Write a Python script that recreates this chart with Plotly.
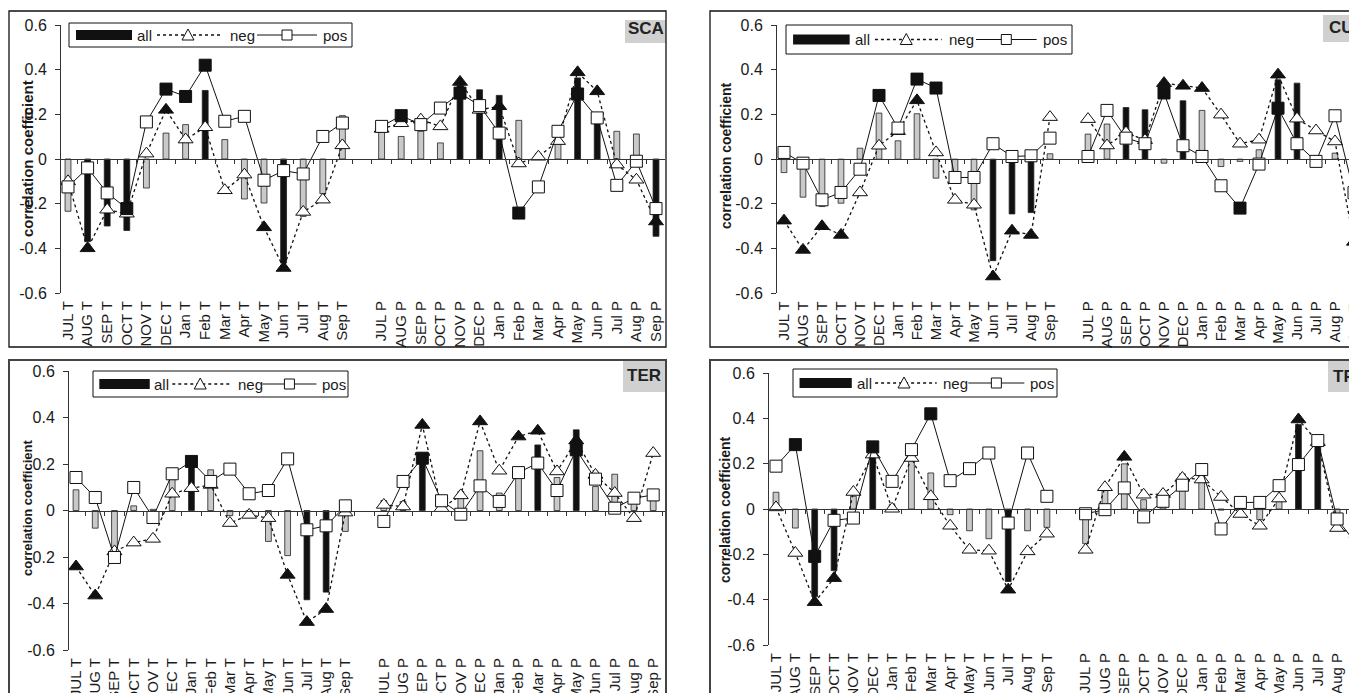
import plotly.graph_objects as go

W, H = 1357, 693
OFF = 8  # page body margin of the rendered html

# ---------------- data ----------------
T_LABELS = ["JUL T", "AUG T", "SEP T", "OCT T", "NOV T", "DEC T", "Jan T", "Feb T",
            "Mar T", "Apr T", "May T", "Jun T", "Jul T", "Aug T", "Sep T"]
P_LABELS = ["JUL P", "AUG P", "SEP P", "OCT P", "NOV P", "DEC P", "Jan P", "Feb P",
            "Mar P", "Apr P", "May P", "Jun P", "Jul P", "Aug P", "Sep P"]
SITES = ["SCA", "CUE", "TER", "TRT"]

# SCA
SCA_all = [-0.234, -0.37, -0.30, -0.32, -0.13, 0.116, 0.154, 0.307, 0.087, -0.179, -0.197, -0.466, -0.257, -0.155, 0.194,
           0.169, 0.101, 0.124, 0.072, 0.33, 0.31, 0.285, 0.173, 0.024, 0.087, 0.363, 0.206, 0.124, 0.112, -0.346]
SCA_all_sig = [0, 1, 1, 1, 0, 0, 0, 1, 0, 0, 0, 1, 0, 0, 0,
               0, 0, 0, 0, 1, 1, 1, 0, 0, 0, 1, 1, 0, 0, 1]
SCA_neg = [-0.10, -0.40, -0.227, -0.245, 0.024, 0.22, 0.087, 0.142, -0.14, -0.07, -0.306, -0.488, -0.237, -0.182, 0.061,
           0.135, 0.16, 0.176, 0.146, 0.345, 0.22, 0.236, -0.02, 0.01, 0.08, 0.388, 0.303, -0.025, -0.093, -0.28]
SCA_neg_sig = [0, 1, 0, 0, 0, 1, 0, 0, 0, 0, 1, 1, 0, 0, 0,
               0, 0, 0, 0, 1, 0, 1, 0, 0, 0, 1, 1, 0, 0, 1]
SCA_pos = [-0.125, -0.04, -0.152, -0.222, 0.166, 0.313, 0.28, 0.42, 0.169, 0.191, -0.095, -0.052, -0.067, 0.101, 0.161,
           0.146, 0.194, 0.154, 0.228, 0.295, 0.239, 0.116, -0.242, -0.125, 0.124, 0.291, 0.184, -0.118, -0.01, -0.222]
SCA_pos_sig = [0, 0, 0, 1, 0, 1, 1, 1, 0, 0, 0, 0, 0, 0, 0,
               0, 1, 0, 0, 1, 0, 0, 1, 0, 0, 1, 0, 0, 0, 0]

# CUE
CUE_all = [-0.06, -0.17, -0.212, -0.197, 0.049, 0.206, 0.082, 0.203, -0.085, -0.063, -0.227, -0.454, -0.245, -0.239, 0.024,
           0.112, 0.157, 0.231, 0.221, -0.018, 0.261, 0.218, -0.033, -0.01, 0.042, 0.355, 0.34, -0.005, 0.027, -0.27]
CUE_all_sig = [0, 0, 0, 0, 0, 0, 0, 0, 0, 0, 0, 1, 1, 1, 0,
               0, 0, 1, 1, 0, 1, 0, 0, 0, 0, 1, 1, 0, 0, 0]
CUE_neg = [-0.275, -0.406, -0.30, -0.339, -0.149, 0.06, 0.125, 0.263, 0.03, -0.182, -0.204, -0.525, -0.32, -0.339, 0.188,
           0.179, 0.061, 0.119, 0.085, 0.34, 0.328, 0.318, 0.199, 0.069, 0.087, 0.378, 0.181, 0.128, 0.079, -0.37]
CUE_neg_sig = [1, 1, 1, 1, 0, 0, 0, 1, 0, 0, 0, 1, 1, 1, 0,
               0, 0, 0, 0, 1, 1, 1, 0, 0, 0, 1, 0, 0, 0, 1]
CUE_pos = [0.03, -0.018, -0.182, -0.149, -0.045, 0.285, 0.139, 0.358, 0.318, -0.082, -0.082, 0.069, 0.012, 0.015, 0.094,
           0.012, 0.218, 0.094, 0.069, 0.296, 0.06, 0.012, -0.119, -0.219, -0.022, 0.228, 0.069, -0.01, 0.194, -0.15]
CUE_pos_sig = [0, 0, 0, 0, 0, 1, 0, 1, 1, 0, 0, 0, 0, 0, 0,
               0, 0, 0, 0, 1, 0, 0, 0, 1, 0, 1, 0, 0, 0, 0]

# TER
TER_all = [0.089, -0.076, -0.184, 0.02, 0.005, 0.153, 0.218, 0.175, -0.022, -0.01, -0.133, -0.194, -0.384, -0.351, -0.09,
           0.043, 0.039, 0.228, 0.027, 0.082, 0.257, 0.075, 0.163, 0.282, 0.142, 0.347, 0.103, 0.156, 0.032, 0.05]
TER_all_sig = [0, 0, 0, 0, 0, 0, 1, 0, 0, 0, 0, 0, 1, 1, 0,
               0, 0, 1, 0, 0, 0, 0, 0, 1, 0, 1, 0, 0, 0, 0]
TER_neg = [-0.241, -0.366, -0.176, -0.138, -0.122, 0.072, 0.096, 0.11, -0.054, -0.019, -0.033, -0.277, -0.48, -0.424, -0.009,
           0.024, 0.017, 0.368, 0.01, 0.065, 0.383, 0.171, 0.318, 0.343, 0.168, 0.301, 0.153, 0.075, -0.033, 0.247]
TER_neg_sig = [1, 1, 0, 0, 0, 0, 0, 0, 0, 0, 0, 1, 1, 1, 0,
               0, 0, 1, 0, 0, 1, 0, 1, 1, 0, 1, 0, 0, 0, 0]
TER_pos = [0.142, 0.056, -0.202, 0.099, -0.03, 0.158, 0.211, 0.125, 0.178, 0.072, 0.086, 0.222, -0.083, -0.066, 0.02,
           -0.047, 0.125, 0.225, 0.042, -0.016, 0.106, 0.039, 0.163, 0.204, 0.086, 0.261, 0.135, 0.01, 0.053, 0.067]
TER_pos_sig = [0, 0, 0, 0, 0, 0, 1, 0, 0, 0, 0, 0, 0, 0, 0,
               0, 0, 1, 0, 0, 0, 0, 0, 0, 0, 1, 0, 0, 0, 0]

# TRT
TRT_all = [0.074, -0.084, -0.386, -0.272, 0.056, 0.267, 0.019, 0.255, 0.159, -0.025, -0.096, -0.131, -0.32, -0.096, -0.081,
           -0.153, 0.093, 0.199, 0.041, 0.066, 0.155, 0.159, -0.005, 0.005, -0.047, 0.041, 0.373, 0.292, -0.032, -0.135]
TRT_all_sig = [0, 0, 1, 1, 0, 1, 0, 0, 0, 0, 0, 0, 1, 0, 0,
               0, 0, 0, 0, 0, 0, 0, 0, 0, 0, 0, 1, 1, 0, 0]
TRT_neg = [0.007, -0.194, -0.411, -0.305, 0.075, 0.24, 0.001, 0.225, 0.056, -0.074, -0.18, -0.184, -0.356, -0.187, -0.109,
           -0.18, 0.096, 0.23, 0.063, 0.066, 0.137, 0.13, 0.053, -0.022, -0.074, 0.046, 0.395, 0.295, -0.084, -0.113]
TRT_neg_sig = [0, 0, 1, 1, 0, 0, 0, 0, 0, 0, 0, 0, 1, 0, 0,
               0, 0, 1, 0, 0, 0, 0, 0, 0, 0, 0, 1, 0, 0, 0]
TRT_pos = [0.189, 0.284, -0.209, -0.05, -0.04, 0.274, 0.122, 0.262, 0.42, 0.125, 0.178, 0.247, -0.062, 0.247, 0.056,
           -0.021, -0.003, 0.093, -0.035, 0.034, 0.105, 0.174, -0.088, 0.029, 0.029, 0.103, 0.196, 0.302, -0.044, -0.155]
TRT_pos_sig = [0, 1, 1, 0, 0, 1, 0, 0, 1, 0, 0, 0, 0, 0, 0,
               0, 0, 0, 0, 0, 0, 0, 0, 0, 0, 0, 0, 0, 0, 0]

DATA = {
    "SCA": (SCA_all, SCA_all_sig, SCA_neg, SCA_neg_sig, SCA_pos, SCA_pos_sig),
    "CUE": (CUE_all, CUE_all_sig, CUE_neg, CUE_neg_sig, CUE_pos, CUE_pos_sig),
    "TER": (TER_all, TER_all_sig, TER_neg, TER_neg_sig, TER_pos, TER_pos_sig),
    "TRT": (TRT_all, TRT_all_sig, TRT_neg, TRT_neg_sig, TRT_pos, TRT_pos_sig),
}
Y_TICKS = [-0.6, -0.4, -0.2, 0, 0.2, 0.4, 0.6]
Y_TICKTEXT = ["-0.6", "-0.4", "-0.2", "0", "0.2", "0.4", "0.6"]

# ---------------- layout geometry (screen pixels) ----------------
GEOM = {
    "SCA": dict(ax=61, right=665, ytop=25, ybot=293, first=68, step=19.6,
                frame=(9, 11, 666, 347), fw=1.3, fc="#111",
                lab=(625, 20, 666, 43), labx=645.5, laby=29, lanchor="center",
                leg=(69, 23, 283, 24), ytitle=(27, 159, 15)),
    "CUE": dict(ax=777, right=1365, ytop=25, ybot=293.3, first=784, step=19.0,
                frame=(710, 11, 1420, 347), fw=1.3, fc="#111",
                lab=(1323, 15, 1420, 42), labx=1327, laby=27, lanchor="left",
                leg=(786, 25, 286, 29), ytitle=(726, 156, 14)),
    "TER": dict(ax=69, right=665, ytop=371, ybot=650, first=76, step=19.24,
                frame=(9, 360, 666, 720), fw=2, fc="#444",
                lab=(623, 360, 665, 392), labx=644, laby=375, lanchor="center",
                leg=(93, 371, 255, 26), ytitle=(27, 508, 13)),
    "TRT": dict(ax=769, right=1365, ytop=373, ybot=645, first=776, step=19.35,
                frame=(710, 360, 1420, 720), fw=2, fc="#444",
                lab=(1328, 360, 1420, 392), labx=1331, laby=377, lanchor="left",
                leg=(793, 369, 264, 28), ytitle=(725, 510, 14)),
}

FONT = "Liberation Sans, Arial, sans-serif"
TXT = "#1a1a1a"


def px(x):
    return (x - OFF) / W


def py(y):
    return 1 - (y - OFF) / H


fig = go.Figure()
layout = {}
shapes = []
annotations = []

xs_bar = list(range(15)) + list(range(16, 31))
xs_line = list(range(31))
tick_labels = T_LABELS + P_LABELS


def with_gap(v, fill=None):
    return list(v[:15]) + [fill] + list(v[15:])


def sig_colors(flags):
    return with_gap(["#111" if s else "white" for s in flags], "white")


for i, site in enumerate(SITES):
    n = i + 1
    g = GEOM[site]
    a, a_s, ng, ng_s, ps, ps_s = DATA[site]
    xa = "x" if n == 1 else f"x{n}"
    ya = "y" if n == 1 else f"y{n}"
    xdom = [px(g["ax"]), min(1.0, px(g["right"]))]
    right_px = min(g["right"], W + OFF)
    ydom = [py(g["ybot"]), py(g["ytop"])]
    xr = [(g["ax"] - g["first"]) / g["step"], (right_px - g["first"]) / g["step"]]

    fig.add_trace(go.Bar(
        x=xs_bar, y=a, width=0.3, xaxis=xa, yaxis=ya, showlegend=False,
        marker=dict(color=["#111111" if s else "#c9c9c9" for s in a_s],
                    line=dict(color="#222", width=0.8)),
    ))
    fig.add_trace(go.Scatter(
        x=xs_line, y=with_gap(ng), xaxis=xa, yaxis=ya, mode="lines+markers",
        showlegend=False, connectgaps=False,
        line=dict(color="#111", width=1.3, dash="dot"),
        marker=dict(symbol="triangle-up", size=13, color=sig_colors(ng_s),
                    line=dict(color="#111", width=1)),
    ))
    fig.add_trace(go.Scatter(
        x=xs_line, y=with_gap(ps), xaxis=xa, yaxis=ya, mode="lines+markers",
        showlegend=False, connectgaps=False,
        line=dict(color="#111", width=1),
        marker=dict(symbol="square", size=12, color=sig_colors(ps_s),
                    line=dict(color="#111", width=1)),
    ))

    layout[f"xaxis{n}"] = dict(
        domain=xdom, range=xr, anchor=ya, tickmode="array", tickvals=xs_bar,
        ticktext=tick_labels, tickangle=-90, showline=False, showgrid=False,
        zeroline=False, ticks="", ticklabelstandoff=4, automargin=False,
        tickfont=dict(family=FONT, size=15, color=TXT),
    )
    layout[f"yaxis{n}"] = dict(
        domain=ydom, range=[-0.6, 0.6], anchor=xa, tickmode="array",
        tickvals=Y_TICKS, ticktext=Y_TICKTEXT, showline=True, linecolor="#333",
        linewidth=1, ticks="outside", ticklen=5, tickcolor="#333",
        showgrid=False, zeroline=False, ticklabelstandoff=5, automargin=False,
        tickfont=dict(family=FONT, size=16, color=TXT),
    )
    # zero line with category-boundary ticks
    m = n + 4
    layout[f"xaxis{m}"] = dict(
        overlaying=xa, anchor="free", position=(ydom[0] + ydom[1]) / 2,
        domain=xdom, range=xr, tickmode="array",
        tickvals=[k + 0.5 for k in range(-1, 31)], ticks="outside", ticklen=4,
        tickcolor="#333", showticklabels=False, showline=True, automargin=False,
        linecolor="#333", linewidth=1, showgrid=False, zeroline=False,
    )
    fig.add_trace(go.Scatter(x=[None], y=[None], xaxis=f"x{m}", yaxis=ya,
                             showlegend=False, hoverinfo="skip"))

    # panel frame
    x0, y0, x1, y1 = g["frame"]
    shapes.append(dict(type="rect", xref="paper", yref="paper",
                       x0=px(x0), x1=px(x1), y0=py(y1), y1=py(y0),
                       line=dict(color=g["fc"], width=g["fw"]), layer="above"))
    # site label
    lx0, ly0, lx1, ly1 = g["lab"]
    shapes.append(dict(type="rect", xref="paper", yref="paper",
                       x0=px(lx0), x1=px(lx1), y0=py(ly1), y1=py(ly0),
                       fillcolor="#d0d0d0", line=dict(width=0), layer="below"))
    annotations.append(dict(text=f"<b>{site}</b>", xref="paper", yref="paper",
                            x=px(g["labx"]), y=py(g["laby"]), xanchor=g["lanchor"],
                            yanchor="middle", showarrow=False,
                            font=dict(family=FONT, size=17, color="#222")))
    # y title
    tx, ty, tfs = g["ytitle"]
    annotations.append(dict(text="<b>correlation coefficient</b>", xref="paper",
                            yref="paper", x=px(tx), y=py(ty), xanchor="center",
                            yanchor="middle", textangle=-90, showarrow=False,
                            font=dict(family=FONT, size=tfs, color=TXT)))

    # legend box
    L, T, Wd, Hh = g["leg"]
    s = Wd / 283.0
    cy = T + Hh / 2
    shapes.append(dict(type="rect", xref="paper", yref="paper",
                       x0=px(L), x1=px(L + Wd), y0=py(T + Hh), y1=py(T),
                       fillcolor="white", line=dict(color="#111", width=1), layer="above"))
    shapes.append(dict(type="rect", xref="paper", yref="paper",
                       x0=px(L + 7 * s), x1=px(L + 63 * s), y0=py(cy + 5), y1=py(cy - 5),
                       fillcolor="#111", line=dict(width=0), layer="above"))
    shapes.append(dict(type="line", xref="paper", yref="paper",
                       x0=px(L + 88 * s), x1=px(L + 154 * s), y0=py(cy), y1=py(cy),
                       line=dict(color="#111", width=1.3, dash="dot"), layer="above"))
    shapes.append(dict(type="line", xref="paper", yref="paper",
                       x0=px(L + 188 * s), x1=px(L + 248 * s), y0=py(cy), y1=py(cy),
                       line=dict(color="#111", width=1), layer="above"))
    tcx = L + 119 * s
    tri = (f"M {px(tcx - 6)} {py(cy + 5)} L {px(tcx + 6)} {py(cy + 5)} "
           f"L {px(tcx)} {py(cy - 6)} Z")
    shapes.append(dict(type="path", xref="paper", yref="paper", path=tri,
                       fillcolor="white", line=dict(color="#111", width=1), layer="above"))
    scx = L + 218 * s
    shapes.append(dict(type="rect", xref="paper", yref="paper",
                       x0=px(scx - 5), x1=px(scx + 5), y0=py(cy + 5), y1=py(cy - 5),
                       fillcolor="white", line=dict(color="#111", width=1), layer="above"))
    for txt, off in (("all", 66), ("neg", 159), ("pos", 252)):
        annotations.append(dict(text=txt, xref="paper", yref="paper",
                                x=px(L + off * s), y=py(cy), xanchor="left",
                                yanchor="middle", showarrow=False,
                                font=dict(family=FONT, size=15, color=TXT)))

fig.update_layout(
    width=W, height=H,
    margin=dict(l=0, r=0, t=0, b=0, pad=0, autoexpand=False),
    paper_bgcolor="white", plot_bgcolor="rgba(0,0,0,0)",
    barmode="overlay", showlegend=False,
    shapes=shapes, annotations=annotations,
    font=dict(family=FONT, color=TXT),
    **layout,
)

fig.write_html("out.html")
